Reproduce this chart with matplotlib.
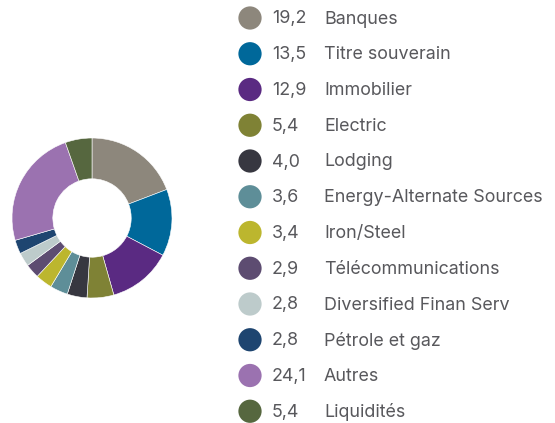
import numpy as np
import matplotlib
matplotlib.use("Agg")
import matplotlib.pyplot as plt

plt.rcParams["font.family"] = ["Inter", "DejaVu Sans"]

labels = ["Banques", "Titre souverain", "Immobilier", "Electric", "Lodging",
          "Energy-Alternate Sources", "Iron/Steel", "Télécommunications",
          "Diversified Finan Serv", "Pétrole et gaz", "Autres", "Liquidités"]
values = [19.2, 13.5, 12.9, 5.4, 4.0, 3.6, 3.4, 2.9, 2.8, 2.8, 24.1, 5.4]
colors = ["#8D877C", "#00689A", "#5A2A82", "#7F8235", "#373740", "#5E8E98",
          "#BCB62E", "#5D4C71", "#BDCBCB", "#1E4570", "#9B72B0", "#56673F"]

W, H = 555, 423
fig = plt.figure(figsize=(W/100, H/100), dpi=100)

# donut
cx, cy, r = 92, 218, 80
ax = fig.add_axes([(cx-r)/W, (H-cy-r)/H, 2*r/W, 2*r/H])
ax.pie(values, colors=colors, startangle=90, counterclock=False, radius=1,
       wedgeprops=dict(width=0.51, edgecolor="white", linewidth=0.4))
ax.set_xlim(-1, 1); ax.set_ylim(-1, 1)
ax.set_aspect("equal")
ax.axis("off")

# legend
lg = fig.add_axes([0, 0, 1, 1])
lg.set_xlim(0, W); lg.set_ylim(H, 0)
lg.axis("off")
ys = 18 + 35.75*np.arange(len(labels))
lg.scatter(np.full(len(labels), 250), ys, s=280, c=colors, linewidths=0)
for y, v, lab in zip(ys, values, labels):
    lg.text(272, y + 1, f"{v:.1f}".replace(".", ","), va="center", ha="left",
            fontsize=12.9, color="#58585C")
    lg.text(324, y + 1, lab, va="center", ha="left", fontsize=12.9, color="#58585C")

fig.savefig("out.png", dpi=100)
